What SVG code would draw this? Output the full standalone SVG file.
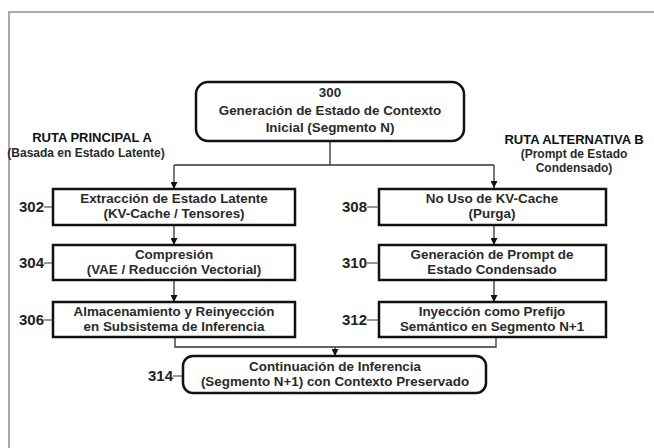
<svg xmlns="http://www.w3.org/2000/svg" width="654" height="448" viewBox="0 0 654 448">
<defs>
<marker id="ah" viewBox="0 0 10 10" refX="10" refY="5" markerWidth="7" markerHeight="7" markerUnits="userSpaceOnUse" orient="auto">
<path d="M0,0 L10,5 L0,10 z" fill="#111"/>
</marker>
</defs>
<style>
text{font-family:"Liberation Sans",Arial,sans-serif;fill:#2a2a2a;text-anchor:middle}
.t{font-size:13.4px;font-weight:bold}
.h{font-size:13px;font-weight:bold;fill:#111}
.s{font-size:12px;font-weight:bold}
.n{font-size:15px;font-weight:bold;fill:#222;text-anchor:end}
.b{fill:#fff;stroke:#111;stroke-width:2.5}
.c{fill:none;stroke:#333;stroke-width:1.3}
.k{fill:none;stroke:#333;stroke-width:1}
</style>
<rect width="654" height="448" fill="#fff"/>
<path d="M9,448 V12 H654" fill="none" stroke="#aaa" stroke-width="2"/>

<g id="labels">
<text class="h" x="92" y="142">RUTA PRINCIPAL A</text>
<text class="s" x="86" y="157">(Basada en Estado Latente)</text>
<text class="h" x="574" y="144">RUTA ALTERNATIVA B</text>
<text class="s" x="574" y="158">(Prompt de Estado</text>
<text class="s" x="574" y="172">Condensado)</text>
</g>

<g id="connectors">
<path class="c" d="M330,141 V165 M174,165 H494"/>
<path class="c" d="M174,165 V189" marker-end="url(#ah)"/>
<path class="c" d="M494,165 V188" marker-end="url(#ah)"/>
<path class="c" d="M174,225 V245" marker-end="url(#ah)"/>
<path class="c" d="M174,280 V302" marker-end="url(#ah)"/>
<path class="c" d="M494,225 V245" marker-end="url(#ah)"/>
<path class="c" d="M494,280 V302" marker-end="url(#ah)"/>
<path class="c" d="M175,337 V347 H496 V337"/>
<path class="c" d="M335,347 V356" marker-end="url(#ah)"/>
</g>

<g id="n300">
<rect class="b" x="196" y="82" width="268" height="59" rx="12"/>
<text class="t" x="330" y="97">300</text>
<text class="t" x="330" y="115">Generación de Estado de Contexto</text>
<text class="t" x="330" y="132">Inicial (Segmento N)</text>
</g>

<g id="n302">
<rect class="b" x="53" y="189" width="242" height="36"/>
<text class="t" x="174" y="203">Extracción de Estado Latente</text>
<text class="t" x="174" y="218">(KV-Cache / Tensores)</text>
<text class="n" x="44" y="212">302</text><path class="k" d="M44,207 H53"/>
</g>

<g id="n304">
<rect class="b" x="53" y="245" width="242" height="35"/>
<text class="t" x="174" y="259">Compresión</text>
<text class="t" x="174" y="274">(VAE / Reducción Vectorial)</text>
<text class="n" x="44" y="268">304</text><path class="k" d="M44,263 H53"/>
</g>

<g id="n306">
<rect class="b" x="53" y="302" width="242" height="35"/>
<text class="t" x="174" y="316">Almacenamiento y Reinyección</text>
<text class="t" x="174" y="331">en Subsistema de Inferencia</text>
<text class="n" x="44" y="325">306</text><path class="k" d="M44,320 H53"/>
</g>

<g id="n308">
<rect class="b" x="379" y="189" width="227" height="36"/>
<text class="t" x="492" y="203">No Uso de KV-Cache</text>
<text class="t" x="492" y="218">(Purga)</text>
<text class="n" x="367" y="212">308</text><path class="k" d="M367,207 H379"/>
</g>

<g id="n310">
<rect class="b" x="379" y="245" width="227" height="35"/>
<text class="t" x="492" y="259">Generación de Prompt de</text>
<text class="t" x="492" y="274">Estado Condensado</text>
<text class="n" x="367" y="268">310</text><path class="k" d="M367,263 H379"/>
</g>

<g id="n312">
<rect class="b" x="379" y="302" width="227" height="35"/>
<text class="t" x="492" y="316">Inyección como Prefijo</text>
<text class="t" x="492" y="331">Semántico en Segmento N+1</text>
<text class="n" x="367" y="325">312</text><path class="k" d="M367,320 H379"/>
</g>

<g id="n314">
<rect class="b" x="183" y="356" width="303" height="37" rx="10"/>
<text class="t" x="335" y="371">Continuación de Inferencia</text>
<text class="t" x="335" y="386">(Segmento N+1) con Contexto Preservado</text>
<text class="n" x="173" y="381">314</text><path class="k" d="M173,376 H183"/>
</g>
</svg>
